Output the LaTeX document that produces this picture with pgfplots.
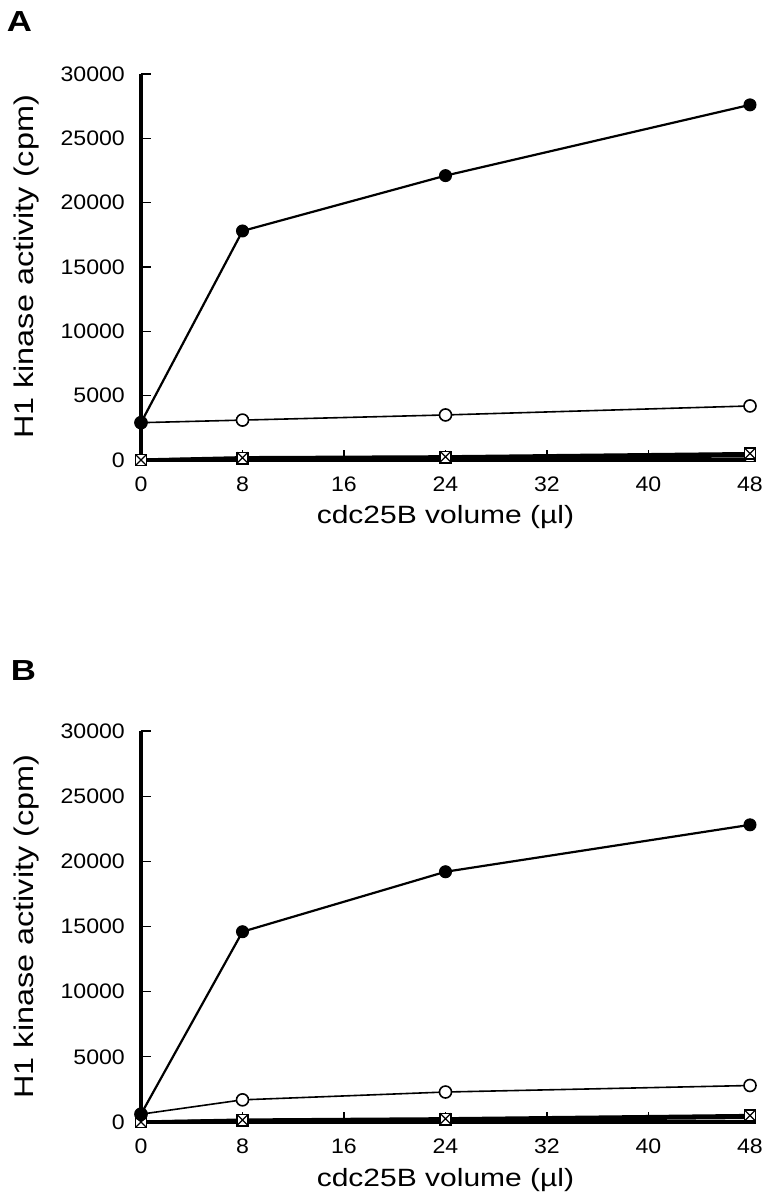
\documentclass[border=0pt]{standalone}
\usepackage{fontspec}
\setmainfont{Liberation Sans}
\newfontfamily\tickfont{Liberation Sans}[FakeStretch=1.1]
\newfontfamily\labfont{Liberation Sans}[FakeStretch=1.2]
\usepackage{pgfplots}
\pgfplotsset{compat=1.18}
\pgfdeclareplotmark{sqx}{%
  \pgfpathrectangle{\pgfpoint{-\pgfplotmarksize}{-\pgfplotmarksize}}{\pgfpoint{2\pgfplotmarksize}{2\pgfplotmarksize}}%
  \pgfusepathqfillstroke
  \pgfpathmoveto{\pgfpoint{-\pgfplotmarksize}{-\pgfplotmarksize}}\pgfpathlineto{\pgfpoint{\pgfplotmarksize}{\pgfplotmarksize}}%
  \pgfpathmoveto{\pgfpoint{-\pgfplotmarksize}{\pgfplotmarksize}}\pgfpathlineto{\pgfpoint{\pgfplotmarksize}{-\pgfplotmarksize}}%
  \pgfusepathqstroke}
\pgfplotsset{
  panel/.style={
    scale only axis, width=609pt,
    xmin=0, xmax=48, ymin=0, ymax=30000,
    axis lines*=left,
    axis line style={line width=3.2pt, black},
    every outer x axis line/.append style={line width=3.2pt},
    every outer y axis line/.append style={line width=3.2pt},
    tick align=inside, major tick length=10pt,
    tick style={line width=1.2pt, black},
    xtick={0,8,...,48}, ytick={0,5000,...,30000},
    scaled y ticks=false,
    /pgf/number format/assume math mode=true,
    /pgf/number format/fixed,
    /pgf/number format/set thousands separator={},
    tick label style={font=\tickfont\fontsize{21}{24}\selectfont},
    yticklabel style={anchor=east, inner sep=0pt, xshift=-16pt},
    xticklabel style={anchor=base, inner sep=0pt, yshift=-32pt},
    ylabel={H1 kinase activity (cpm)},
    xlabel={cdc25B volume (µl)},
    ylabel style={font=\labfont\fontsize{27}{30}\selectfont, at={(axis description cs:-0.1773,0.5)}, anchor=base, inner sep=0pt},
    xlabel style={font=\labfont\fontsize{25}{28}\selectfont, at={(axis description cs:0.5,0)}, anchor=base, inner sep=0pt, yshift=-64pt},
    clip=false,
  },
  fil/.style={black, line width=2.2pt, mark=*, mark size=6pt, mark options={solid, fill=black, line width=1pt}},
  opn/.style={black, line width=1.6pt, mark=*, mark size=6pt, mark options={solid, fill=white, line width=1.6pt}},
  low/.style={black, line width=3.2pt, mark=sqx, mark size=5.5pt, mark options={solid, fill=white, line width=1.2pt}},
}
\begin{document}
\begin{tikzpicture}[x=1pt,y=1pt]
\useasboundingbox (0,0) rectangle (776,1199);
\node[font=\labfont\bfseries\fontsize{29}{32}\selectfont, anchor=center] at (19.5,1177) {A};
\node[font=\labfont\bfseries\fontsize{29}{32}\selectfont, anchor=center] at (23.5,528) {B};
% Panel A
\begin{axis}[panel, height=386pt, at={(141pt,739pt)}, anchor=origin]
\addplot[low] coordinates {(0,0) (8,100) (24,150) (48,320)};
\addplot[low] coordinates {(0,0) (8,180) (24,250) (48,500)};
\addplot[opn] coordinates {(0,2900) (8,3100) (24,3500) (48,4200)};
\addplot[fil] coordinates {(0,2900) (8,17800) (24,22100) (48,27600)};
\end{axis}
% Panel B
\begin{axis}[panel, height=391pt, at={(141pt,77pt)}, anchor=origin]
\addplot[low] coordinates {(0,0) (8,100) (24,150) (48,350)};
\addplot[low] coordinates {(0,0) (8,150) (24,250) (48,500)};
\addplot[opn] coordinates {(0,600) (8,1700) (24,2300) (48,2800)};
\addplot[fil] coordinates {(0,600) (8,14600) (24,19200) (48,22800)};
\end{axis}
\end{tikzpicture}
\end{document}
